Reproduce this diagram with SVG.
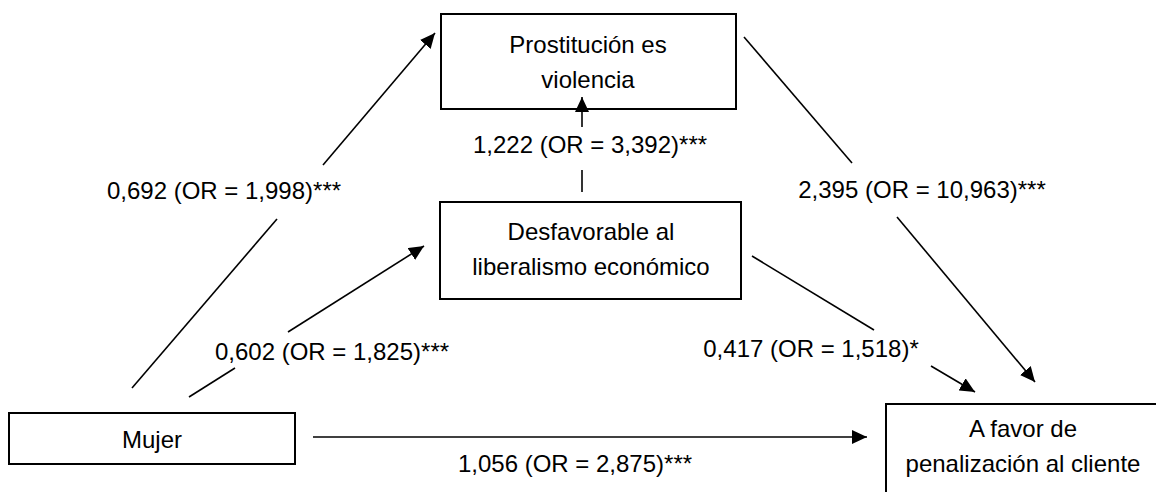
<svg xmlns="http://www.w3.org/2000/svg" width="1156" height="492" viewBox="0 0 1156 492">
<style>
.box{fill:#fff;stroke:#000;stroke-width:2}
.t{font-family:"Liberation Sans",Arial,sans-serif;font-size:24px;fill:#000;text-anchor:middle}
.c{stroke:#000;stroke-width:1.6;fill:none}
</style>
<defs>
<marker id="ah" markerUnits="userSpaceOnUse" markerWidth="16" markerHeight="14" refX="15" refY="7" orient="auto">
<path d="M0,0 L15,7 L0,14 z" fill="#000"/>
</marker>
</defs>
<rect width="1156" height="492" fill="#fff"/>
<g id="prostitucion">
<rect class="box" x="441" y="14" width="295" height="95"/>
<text class="t" x="588" y="53">Prostitución es</text>
<text class="t" x="588" y="88">violencia</text>
</g>
<g id="desfavorable">
<rect class="box" x="440" y="202" width="301" height="97"/>
<text class="t" x="591" y="240">Desfavorable al</text>
<text class="t" x="591" y="275">liberalismo económico</text>
</g>
<g id="mujer">
<rect class="box" x="9" y="413" width="286" height="51"/>
<text class="t" x="152" y="448">Mujer</text>
</g>
<g id="afavor">
<rect class="box" x="886" y="404" width="280" height="100"/>
<text class="t" x="1023" y="437">A favor de</text>
<text class="t" x="1023" y="472">penalización al cliente</text>
</g>
<g id="connectors">
<line class="c" x1="132" y1="388" x2="277" y2="219"/>
<line class="c" x1="323" y1="165" x2="435" y2="33" marker-end="url(#ah)"/>
<line class="c" x1="189" y1="397" x2="235" y2="368"/>
<line class="c" x1="288" y1="332" x2="424" y2="246" marker-end="url(#ah)"/>
<line class="c" x1="582" y1="192" x2="582" y2="170"/>
<line class="c" x1="582" y1="127" x2="582" y2="97" marker-end="url(#ah)"/>
<line class="c" x1="744" y1="37" x2="852" y2="163"/>
<line class="c" x1="897" y1="217" x2="1035" y2="382" marker-end="url(#ah)"/>
<line class="c" x1="752" y1="256" x2="874" y2="330"/>
<line class="c" x1="931" y1="366" x2="975" y2="392" marker-end="url(#ah)"/>
<line class="c" x1="313" y1="437" x2="867" y2="437" marker-end="url(#ah)"/>
<text class="t" x="224" y="199">0,692 (OR = 1,998)***</text>
<text class="t" x="590" y="153">1,222 (OR = 3,392)***</text>
<text class="t" x="922" y="198">2,395 (OR = 10,963)***</text>
<text class="t" x="332" y="360">0,602 (OR = 1,825)***</text>
<text class="t" x="811" y="357">0,417 (OR = 1,518)*</text>
<text class="t" x="575" y="472">1,056 (OR = 2,875)***</text>
</g>
</svg>
